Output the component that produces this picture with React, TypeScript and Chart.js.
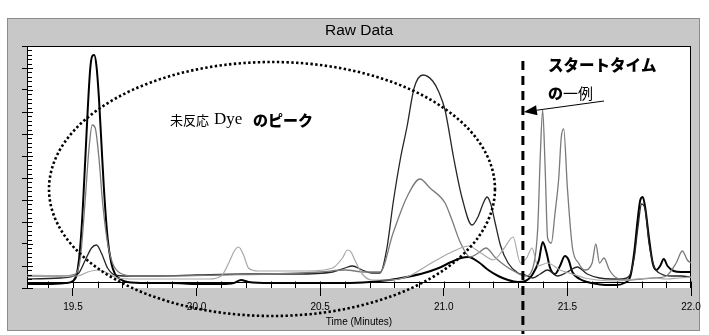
import React, { useEffect, useRef } from "react";
import { Chart, registerables } from "chart.js";
Chart.register(...registerables);

// ---------- axes ----------
const xTickValues = [19.5, 20.0, 20.5, 21.0, 21.5, 22.0];
const X_MIN = 19.314;
const X_MAX = 22.0;
const yTickValues = [0, 22, 44, 66, 88, 110, 132, 154, 176, 198, 220, 242];
const Y_MIN = 0;
const Y_MAX = 242;
const titleText = "Raw Data";
const xAxisTitle = "Time (Minutes)";

// ---------- series (time in minutes, signal) ----------
const blackT = [19.314, 19.4, 19.47, 19.5, 19.52, 19.535, 19.55, 19.56, 19.57, 19.578, 19.586, 19.595, 19.605, 19.615, 19.625, 19.64, 19.655, 19.67, 19.69, 19.72, 19.8, 19.9, 20.0, 20.1, 20.15, 20.18, 20.21, 20.3, 20.4, 20.5, 20.6, 20.7, 20.78, 20.85, 20.92, 20.98, 21.03, 21.07, 21.1, 21.14, 21.18, 21.22, 21.26, 21.3, 21.33, 21.36, 21.385, 21.4, 21.415, 21.43, 21.45, 21.47, 21.49, 21.505, 21.52, 21.55, 21.58, 21.62, 21.66, 21.7, 21.73, 21.755, 21.77, 21.785, 21.795, 21.805, 21.815, 21.83, 21.845, 21.86, 21.875, 21.89, 21.905, 21.93, 21.96, 22.0];
const blackV = [4, 4, 5, 7, 20, 60, 130, 180, 220, 232, 233, 222, 190, 145, 100, 50, 25, 14, 9, 6, 5, 5, 4, 4, 5, 8, 6, 5, 5, 5, 5, 6, 8, 11, 15, 20, 26, 30, 31, 26, 18, 12, 8, 6, 7, 14, 28, 46, 36, 20, 14, 22, 32, 28, 16, 9, 6, 4, 3, 3, 5, 12, 35, 70, 88, 91, 80, 50, 25, 18, 22, 29, 22, 17, 16, 16];

const darkT = [19.314, 19.45, 19.52, 19.55, 19.575, 19.595, 19.615, 19.64, 19.67, 19.72, 19.85, 20.0, 20.2, 20.4, 20.55, 20.6, 20.63, 20.67, 20.71, 20.742, 20.77, 20.795, 20.825, 20.851, 20.88, 20.916, 20.955, 20.98, 21.005, 21.04, 21.074, 21.114, 21.14, 21.16, 21.175, 21.19, 21.207, 21.23, 21.26, 21.3, 21.33, 21.36, 21.39, 21.42, 21.46, 21.5, 21.54, 21.58, 21.63, 21.68, 21.72, 21.75, 21.77, 21.785, 21.8, 21.815, 21.83, 21.85, 21.88, 21.92, 21.96, 22.0];
const darkV = [9, 10, 14, 28, 40, 43, 35, 20, 13, 12, 12, 13, 14, 14, 16, 20, 22, 18, 15, 15, 40, 85, 130, 161, 200, 213, 207, 196, 178, 130, 90, 63, 72, 85, 91, 84, 66, 42, 25, 15, 13, 10, 14, 18, 12, 16, 21, 14, 10, 9, 9, 12, 30, 60, 84, 78, 45, 22, 14, 12, 12, 11];

const grayT = [19.314, 19.45, 19.51, 19.53, 19.55, 19.565, 19.578, 19.59, 19.605, 19.62, 19.64, 19.66, 19.69, 19.75, 19.9, 20.1, 20.3, 20.5, 20.6, 20.68, 20.742, 20.795, 20.851, 20.904, 20.944, 21.005, 21.033, 21.066, 21.106, 21.14, 21.17, 21.21, 21.25, 21.29, 21.33, 21.36, 21.38, 21.39, 21.4, 21.41, 21.42, 21.435, 21.45, 21.465, 21.475, 21.485, 21.5, 21.52, 21.545, 21.57, 21.6, 21.615, 21.63, 21.648, 21.67, 21.7, 21.75, 21.8, 21.85, 21.9, 21.94, 21.965, 21.985, 22.0];
const grayV = [12, 12, 14, 30, 90, 140, 163, 160, 130, 85, 45, 25, 15, 12, 12, 13, 14, 16, 18, 16, 16, 55, 91, 109, 100, 85, 68, 46, 31, 35, 40, 30, 22, 16, 12, 20, 60, 130, 178, 120, 50, 45, 75, 110, 150, 159, 100, 41, 25, 18, 25, 44, 25, 30, 18, 10, 8, 9, 10, 12, 25, 37, 28, 25];

const lightT = [19.314, 19.45, 19.52, 19.56, 19.6, 19.64, 19.68, 19.75, 19.9, 20.05, 20.1, 20.13, 20.155, 20.17, 20.19, 20.21, 20.25, 20.35, 20.45, 20.55, 20.59, 20.61, 20.625, 20.64, 20.67, 20.71, 20.78, 20.86, 20.93, 21.0, 21.05, 21.1, 21.15, 21.2, 21.245, 21.28, 21.31, 21.335, 21.357, 21.38, 21.42, 21.47, 21.52, 21.57, 21.62, 21.7, 21.78, 21.85, 21.9, 21.95, 22.0];
const lightV = [13, 12, 12, 16, 18, 15, 10, 9, 9, 9, 12, 25, 38, 41, 33, 20, 17, 17, 17, 20, 30, 38, 36, 28, 14, 8, 8, 12, 22, 32, 38, 42, 35, 28, 40, 51, 25, 30, 40, 22, 25, 18, 14, 10, 8, 7, 9, 10, 9, 10, 11];

// ---------- annotations (data units) ----------
const startTime = 21.32;
const ellipseCenter = { t: 20.305, v: 99 };
const ellipseRadius = { t: 0.902, v: 127 };

export default function App() {
  const ref = useRef<HTMLCanvasElement>(null);

  useEffect(() => {
    document.body.style.margin = "0";
    const canvas = ref.current;
    if (!canvas) return;

    const toXY = (ts: number[], vs: number[]) => ts.map((t, i) => ({ x: t, y: vs[i] }));

    const overlay = {
      id: "overlay",
      beforeDraw(chart: any) {
        const ctx = chart.ctx;
        const ca = chart.chartArea;
        ctx.save();
        ctx.fillStyle = "#ffffff";
        ctx.fillRect(0, 0, chart.width, chart.height);
        ctx.fillStyle = "#c8c8c8";
        ctx.fillRect(7, 18, 693, 313);
        ctx.strokeStyle = "#8c8c8c";
        ctx.lineWidth = 1;
        ctx.strokeRect(7.5, 18.5, 692, 312);
        ctx.fillStyle = "#ffffff";
        ctx.fillRect(ca.left, ca.top, ca.right - ca.left, ca.bottom - ca.top);
        ctx.strokeStyle = "#000";
        ctx.beginPath();
        ctx.moveTo(ca.left, ca.top + 0.5);
        ctx.lineTo(ca.right, ca.top + 0.5);
        ctx.moveTo(ca.right - 0.5, ca.top);
        ctx.lineTo(ca.right - 0.5, ca.bottom);
        ctx.stroke();
        ctx.fillStyle = "#000";
        ctx.font = '15.5px "Liberation Sans", Arial, sans-serif';
        ctx.textAlign = "center";
        ctx.textBaseline = "middle";
        ctx.fillText(titleText, (ca.left + ca.right) / 2, 31);
        ctx.restore();
      },
      afterDraw(chart: any) {
        const ctx = chart.ctx;
        const ca = chart.chartArea;
        const xs = chart.scales.x;
        const ys = chart.scales.y;
        ctx.save();
        ctx.strokeStyle = "#000";
        ctx.lineWidth = 1;
        // inner x axis line + minor ticks
        const axisY = Math.round(ys.getPixelForValue(6)) + 0.5;
        ctx.beginPath();
        ctx.moveTo(ca.left, axisY);
        ctx.lineTo(ca.right, axisY);
        for (let k = 194; k <= 220; k++) {
          const px = Math.round(xs.getPixelForValue(k / 10)) + 0.5;
          ctx.moveTo(px, axisY - 1);
          ctx.lineTo(px, ca.bottom);
        }
        // y inner ticks
        for (let i = 0; i <= 55; i++) {
          const v = i * 4.4;
          const py = Math.round(ys.getPixelForValue(v)) + 0.5;
          if (py < ca.top) continue;
          ctx.moveTo(ca.left, py);
          ctx.lineTo(ca.left + (i % 5 === 0 ? 6 : 5), py);
        }
        ctx.stroke();

        // dotted ellipse
        const cx = xs.getPixelForValue(ellipseCenter.t);
        const cy = ys.getPixelForValue(ellipseCenter.v);
        const rx = xs.getPixelForValue(ellipseCenter.t + ellipseRadius.t) - cx;
        const ry = cy - ys.getPixelForValue(ellipseCenter.v + ellipseRadius.v);
        ctx.beginPath();
        ctx.setLineDash([2.4, 2.4]);
        ctx.lineWidth = 2.6;
        ctx.ellipse(cx, cy, rx, ry, 0, 0, Math.PI * 2);
        ctx.stroke();

        // dashed start-time line
        const sx = xs.getPixelForValue(startTime);
        ctx.beginPath();
        ctx.setLineDash([9, 6]);
        ctx.lineWidth = 3;
        ctx.moveTo(sx, 61);
        ctx.lineTo(sx, 334);
        ctx.stroke();
        ctx.setLineDash([]);

        // arrow
        const tipX = sx + 1, tipY = 112;
        const fromX = 604, fromY = 101;
        const dx = tipX - fromX, dy = tipY - fromY;
        const len = Math.hypot(dx, dy);
        const ux = dx / len, uy = dy / len;
        const bx = tipX - ux * 13, by = tipY - uy * 13;
        ctx.lineWidth = 1;
        ctx.beginPath();
        ctx.moveTo(fromX, fromY);
        ctx.lineTo(bx, by);
        ctx.stroke();
        ctx.beginPath();
        ctx.moveTo(tipX, tipY);
        ctx.lineTo(bx - uy * 5, by + ux * 5);
        ctx.lineTo(bx + uy * 5, by - ux * 5);
        ctx.closePath();
        ctx.fillStyle = "#000";
        ctx.fill();

        // texts
        ctx.textAlign = "left";
        ctx.textBaseline = "middle";
        ctx.fillStyle = "#000";
        ctx.font = '13px "Noto Sans CJK JP", sans-serif';
        ctx.fillText("未反応", 170, 120);
        ctx.font = '17px "Liberation Serif", "DejaVu Serif", serif';
        ctx.fillText("Dye", 214, 120);
        ctx.font = '900 15px "Noto Sans CJK JP", sans-serif';
        ctx.fillText("のピーク", 253, 120);

        ctx.font = '900 15.5px "Noto Sans CJK JP", sans-serif';
        ctx.fillText("スタートタイム", 548, 65);
        ctx.font = '900 15px "Noto Sans CJK JP", sans-serif';
        ctx.fillText("の", 548, 93);
        const w = ctx.measureText("の").width;
        ctx.font = '15px "Noto Sans CJK JP", sans-serif';
        ctx.fillText("一例", 548 + w, 93);
        ctx.restore();
      },
    };

    const chart = new Chart(canvas, {
      type: "line",
      data: {
        datasets: [
          { label: "light", data: toXY(lightT, lightV), borderColor: "#a8a8a8", borderWidth: 1.2 },
          { label: "gray", data: toXY(grayT, grayV), borderColor: "#7a7a7a", borderWidth: 1.3 },
          { label: "dark", data: toXY(darkT, darkV), borderColor: "#262626", borderWidth: 1.3 },
          { label: "black", data: toXY(blackT, blackV), borderColor: "#000000", borderWidth: 2 },
        ].map((d) => ({ ...d, pointRadius: 0, fill: false, cubicInterpolationMode: "monotone" as const })),
      },
      options: {
        responsive: false,
        devicePixelRatio: 1,
        animation: false,
        layout: { padding: { left: 7, right: 18, top: 46, bottom: 0 } },
        plugins: { legend: { display: false }, title: { display: false }, tooltip: { enabled: false } },
        scales: {
          x: {
            type: "linear",
            min: X_MIN,
            max: X_MAX,
            afterBuildTicks: (s: any) => {
              s.ticks = xTickValues.map((v) => ({ value: v }));
            },
            afterFit: (s: any) => {
              s.height = 47;
            },
            ticks: {
              autoSkip: false,
              maxRotation: 0,
              padding: 5,
              color: "#000",
              font: { family: '"Liberation Sans", Arial, sans-serif', size: 10 },
              callback: (v: any) => Number(v).toFixed(1),
            },
            grid: { drawOnChartArea: false, tickLength: 8, color: "#000", lineWidth: 1 },
            border: { display: false },
            title: {
              display: true,
              text: xAxisTitle,
              color: "#000",
              font: { family: '"Liberation Sans", Arial, sans-serif', size: 10 },
              padding: { top: 0, bottom: 7 },
            },
          },
          y: {
            type: "linear",
            min: Y_MIN,
            max: Y_MAX,
            afterBuildTicks: (s: any) => {
              s.ticks = yTickValues.map((v) => ({ value: v }));
            },
            afterFit: (s: any) => {
              s.width = 20;
            },
            ticks: { display: false },
            grid: { drawOnChartArea: false, tickLength: 5, color: "#000", lineWidth: 1 },
            border: { display: true, color: "#000", width: 1 },
          },
        },
      },
      plugins: [overlay],
    });
    return () => chart.destroy();
  }, []);

  return (
    <div style={{ width: 709, height: 335 }}>
      <canvas ref={ref} width={709} height={335} style={{ display: "block", width: 709, height: 335 }} />
    </div>
  );
}
